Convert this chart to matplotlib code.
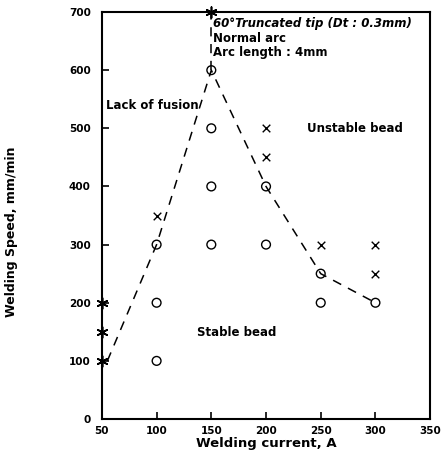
import matplotlib
matplotlib.use("Agg")
import matplotlib.pyplot as plt

# Data
stable_x = [100, 100, 100, 150, 150, 150, 150, 200, 200, 250, 250, 300]
stable_y = [100, 200, 300, 300, 400, 500, 600, 300, 400, 200, 250, 200]
unstable_x = [100, 200, 200, 250, 300, 300]
unstable_y = [350, 500, 450, 300, 300, 250]
lack_x = [50, 50, 50, 150]
lack_y = [100, 150, 200, 700]
bound_x = [55, 100, 150, 200, 250, 300]
bound_y = [100, 300, 600, 400, 250, 200]
vert_x = [150, 150]
vert_y = [600, 700]
xticks = [50, 100, 150, 200, 250, 300, 350]
yticks = [0, 100, 200, 300, 400, 500, 600, 700]

plt.rcParams['font.family'] = ['DejaVu Sans']

fig = plt.figure(figsize=(4.43, 4.62), dpi=100)
ax = fig.add_axes([0.230, 0.093, 0.741, 0.881])

ax.plot(bound_x, bound_y, ls=(0, (6, 5)), color='black', lw=1.1)
ax.plot(vert_x, vert_y, ls=(0, (6, 5)), color='black', lw=1.1)
ax.scatter(stable_x, stable_y, marker='o', s=40, facecolors='none', edgecolors='black', linewidths=1.0, zorder=3)
ax.scatter(unstable_x, unstable_y, marker='x', s=30, color='black', linewidths=1.0, zorder=3)
ax.scatter(lack_x, lack_y, marker=(6, 2, 0), s=60, color='black', linewidths=1.2, zorder=3, clip_on=False)

ax.set_xlim(50, 350)
ax.set_ylim(0, 700)
ax.set_xticks(xticks)
ax.set_yticks(yticks)
ax.tick_params(direction='in', length=5, width=1.2, labelsize=7.5, top=False, right=False)
for lab in ax.get_xticklabels() + ax.get_yticklabels():
    lab.set_fontweight('bold')
ax.tick_params(axis='y', pad=8)
ax.tick_params(axis='x', pad=5)
for s in ax.spines.values():
    s.set_linewidth(1.5)

ax.set_xlabel('Welding current, A', fontsize=9.5, fontweight='bold', labelpad=1)
ax.set_ylabel('Welding Speed, mm/min', fontsize=9, fontweight='bold')
ax.yaxis.set_label_coords(-0.256, 0.46)

fs = 8.5
ax.text(151.5, 681, '60°Truncated tip (Dt : 0.3mm)', fontsize=fs, fontweight='bold', style='italic', va='center', ha='left')
ax.text(151.5, 655, 'Normal arc', fontsize=fs, fontweight='bold', va='center', ha='left')
ax.text(151.5, 631, 'Arc length : 4mm', fontsize=fs, fontweight='bold', va='center', ha='left')
ax.text(54, 540, 'Lack of fusion', fontsize=fs, fontweight='bold', va='center', ha='left')
ax.text(237, 500, 'Unstable bead', fontsize=fs, fontweight='bold', va='center', ha='left')
ax.text(137, 148, 'Stable bead', fontsize=fs, fontweight='bold', va='center', ha='left')

fig.savefig('out.png', dpi=100)
